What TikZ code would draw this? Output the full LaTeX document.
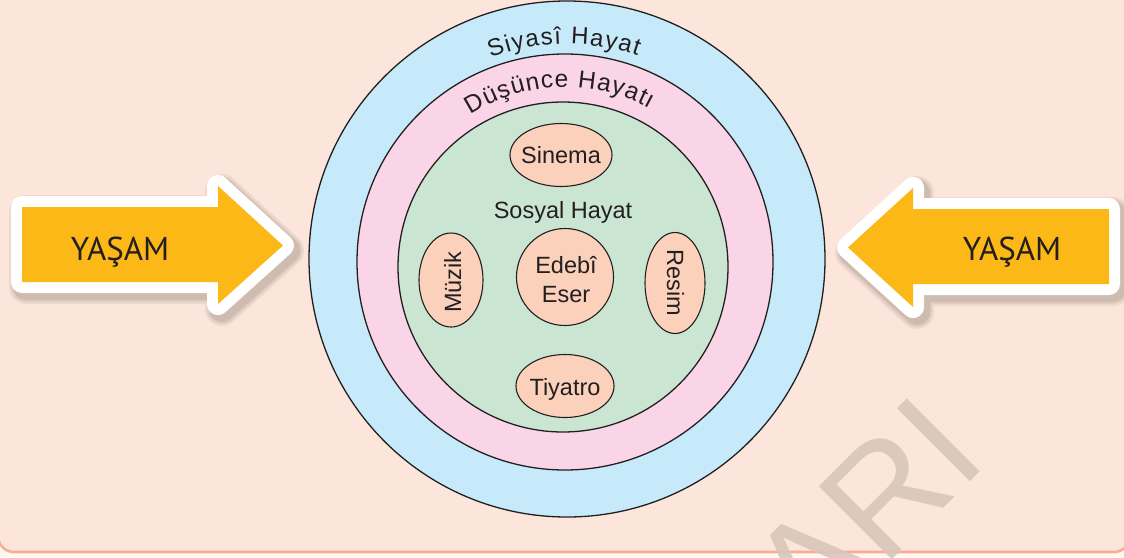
\documentclass[tikz,border=0pt]{standalone}
\usepackage{fontspec}
\setmainfont{Liberation Sans}
\newfontfamily\yasamfont{PT Sans}
\newfontfamily\wmfont{Liberation Sans}
\usetikzlibrary{shapes.geometric,decorations.text}

\definecolor{bgpeach}{HTML}{FCE5DA}
\definecolor{bgcream}{HTML}{FFF7EA}
\definecolor{framecol}{HTML}{F6AE98}
\definecolor{ringblue}{HTML}{C6EAFA}
\definecolor{ringpink}{HTML}{FAD5E7}
\definecolor{ringgreen}{HTML}{CBE5D3}
\definecolor{ellfill}{HTML}{FBD1BC}
\definecolor{arroworange}{HTML}{FBB817}
\definecolor{inkcol}{HTML}{231F20}
\definecolor{wmcol}{HTML}{D9C6BC}

\newcommand{\innerfont}{\fontsize{23.5}{29}\selectfont}
\newcommand{\arcAfont}{\fontsize{24}{28}\selectfont\kern1.4pt}
\newcommand{\arcBfont}{\fontsize{24.5}{28}\selectfont\kern1.1pt}
\newcommand{\leftarrowpoly}{(22,207) -- (218,207) -- (218,186) -- (283,245.5) -- (218,304) -- (218,282) -- (22,282) -- cycle}
\newcommand{\rightarrowpoly}{(1109,209) -- (913,209) -- (913,188) -- (848,247.5) -- (913,307) -- (913,284) -- (1109,284) -- cycle}

\tikzset{
  ring/.style={circle, draw=inkcol, line width=1.3, inner sep=0},
  ell/.style={ellipse, draw=inkcol, line width=1.1, fill=ellfill, inner sep=0},
  txt/.style={text=inkcol, font=\innerfont, inner sep=0, anchor=base},
  yasam/.style={text=inkcol, font=\yasamfont\fontsize{33}{36}\selectfont, inner sep=0, anchor=base},
  whiteline/.style={draw=white, fill=white, line width=22, line join=round},
  orangefill/.style={fill=arroworange},
}

\begin{document}
\begin{tikzpicture}[x=1pt,y=-1pt]
\useasboundingbox (0,0) rectangle (1124,557);
\fill[bgcream] (0,0) rectangle (1124,557);
\draw[framecol, line width=2.6, fill=bgpeach, rounded corners=16] (-2,-40) rectangle (1130,552);

% watermark
\node[wmcol, font=\wmfont\fontsize{150}{150}\selectfont, rotate=45, anchor=base east, inner sep=0, opacity=0.9] (wm) at (990,462) {ARI};

% arrow shadows
\foreach \w/\o in {34/0.05, 30/0.06, 26/0.08}{
  \draw[shift={(4,5)}, draw=black, draw opacity=\o, line width=\w, line join=round] \leftarrowpoly;
  \draw[shift={(4,5)}, draw=black, draw opacity=\o, line width=\w, line join=round] \rightarrowpoly;
}
% arrows
\draw[whiteline] \leftarrowpoly;
\fill[orangefill] \leftarrowpoly;
\draw[whiteline] \rightarrowpoly;
\fill[orangefill] \rightarrowpoly;
\node[yasam] (yasamL) at (120,260) {YAŞAM};
\node[yasam] (yasamR) at (1012,260) {YAŞAM};

% rings
\node[ring, fill=ringblue, minimum size=516] (siyasi) at (567,259) {};
\node[ring, fill=ringpink, minimum size=416] (dusunce) at (565,262) {};
\node[ring, fill=ringgreen, minimum size=330] (sosyal) at (563,267) {};

% arc labels
\path[decorate, decoration={text along path, text align=center, text color=inkcol,
  text={|\arcAfont|Siyasî Hayat}}]
  (567,259) ++(209:215) arc[start angle=209, end angle=329, radius=215];
\path[decorate, decoration={text along path, text align=center, text color=inkcol,
  text={|\arcBfont|Düşünce Hayatı}}]
  (565,262) ++(198:175) arc[start angle=198, end angle=338, radius=175];

% inner items
\node[ell, minimum width=102, minimum height=63] (sinema) at (561,155) {};
\node[ell, minimum width=64, minimum height=94] (muzik) at (451,280) {};
\node[ell, minimum width=60, minimum height=101] (resim) at (675,283) {};
\node[ell, minimum width=98, minimum height=63] (tiyatro) at (565,386) {};
\node[ell, circle, minimum size=97] (eser) at (565,277) {};

\node[txt] (sinemaT) at (561,163) {Sinema};
\node[txt] (sosyalT) at (563,218) {Sosyal Hayat};
\node[txt] (edebiT) at (566,273) {Edebî};
\node[txt] (eserT) at (566,302) {Eser};
\node[txt] (tiyatroT) at (565,395) {Tiyatro};
\node[txt, rotate=90] (muzikT) at (461,282) {Müzik};
\node[txt, rotate=-90] (resimT) at (667,283) {Resim};
\end{tikzpicture}
\end{document}
